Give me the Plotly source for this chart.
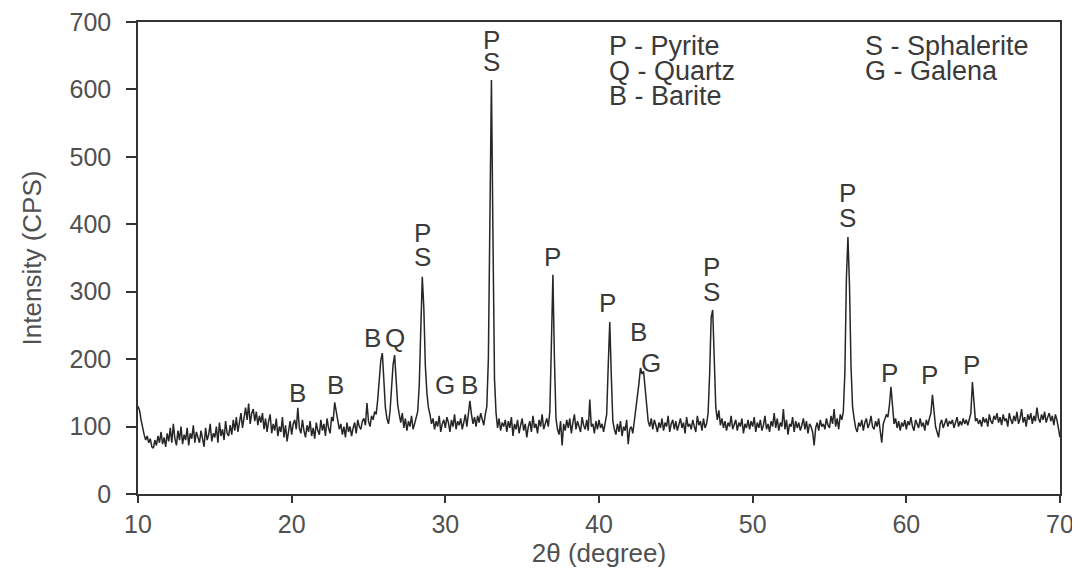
import numpy as np
import plotly.graph_objects as go

# 2-theta grid: 10.0 .. 70.0 in 0.1 degree steps (601 samples)
theta_start = 10.0
theta_step = 0.1

# Intensity (CPS), one row per degree
int_10_20 = [
    130, 124, 110, 96, 88, 80, 86, 76, 82, 70,
    68, 80, 72, 86, 76, 92, 74, 84, 70, 90,
    78, 98, 76, 104, 82, 72, 94, 80, 100, 74,
    88, 80, 98, 72, 90, 82, 102, 76, 92, 84,
    76, 94, 84, 70, 98, 80, 88, 104, 78, 90,
    84, 100, 76, 106, 86, 96, 80, 108, 90, 86,
    102, 88, 110, 94, 114, 92, 106, 120, 98, 112,
    128, 110, 134, 104, 120, 126, 108, 122, 102, 116,
    106, 120, 96, 112, 92, 108, 118, 90, 104, 94,
    112, 86, 100, 92, 114, 84, 102, 78, 96, 108,
]
int_20_30 = [
    88, 104, 110, 96, 128, 98, 90, 110, 94, 84,
    102, 92, 108, 86, 98, 82, 106, 94, 88, 110,
    94, 104, 86, 112, 98, 90, 114, 108, 136, 124,
    110, 96, 104, 88, 100, 84, 106, 92, 100, 86,
    98, 106, 90, 110, 100, 96, 108, 112, 102, 135,
    108, 100, 116, 110, 122, 118, 140, 172, 198, 209,
    170, 128, 112, 104, 122, 158, 192, 206, 170, 132,
    118, 106, 120, 98, 112, 94, 108, 100, 116, 96,
    104, 116, 122, 160, 260, 322, 276, 190, 150, 128,
    118, 104, 112, 96, 108, 100, 116, 92, 104, 110,
]
int_30_40 = [
    98, 114, 106, 92, 110, 100, 118, 96, 108, 102,
    112, 96, 106, 118, 100, 122, 138, 118, 104, 114,
    100, 116, 106, 120, 110, 102, 118, 130, 200, 400,
    614, 380, 170, 120, 98, 112, 94, 106, 100, 110,
    92, 108, 98, 114, 86, 104, 96, 110, 90, 102,
    112, 94, 104, 84, 100, 108, 92, 116, 98, 104,
    90, 110, 100, 118, 96, 104, 112, 100, 122, 220,
    325, 200, 112, 96, 88, 108, 72, 104, 94, 110,
    98, 112, 90, 106, 118, 96, 108, 100, 92, 114,
    102, 96, 110, 94, 140, 100, 104, 90, 108, 96,
]
int_40_50 = [
    110, 98, 104, 92, 106, 118, 190, 255, 176, 108,
    96, 88, 104, 92, 108, 86, 100, 94, 110, 74,
    96, 100, 90, 108, 120, 138, 164, 187, 178, 182,
    158, 126, 108, 100, 112, 96, 110, 102, 92, 106,
    98, 112, 94, 106, 100, 116, 92, 104, 110, 96,
    108, 94, 102, 112, 98, 106, 90, 114, 100, 104,
    96, 110, 100, 92, 116, 102, 108, 94, 112, 98,
    104, 120, 178, 262, 273, 200, 128, 110, 124, 102,
    112, 98, 108, 94, 106, 100, 116, 96, 104, 110,
    94, 106, 100, 112, 90, 104, 98, 110, 96, 108,
]
int_50_60 = [
    100, 114, 92, 106, 98, 110, 94, 102, 116, 96,
    104, 92, 108, 100, 120, 98, 112, 94, 106, 100,
    126, 96, 110, 88, 104, 100, 114, 92, 108, 98,
    106, 94, 102, 112, 96, 108, 90, 104, 100, 92,
    72, 98, 106, 94, 110, 100, 104, 96, 112, 102,
    98, 116, 104, 126, 100, 112, 96, 118, 110, 122,
    180, 320, 381, 310, 190, 130, 112, 98, 92, 106,
    100, 110, 94, 106, 112, 98, 104, 116, 100, 96,
    108, 100, 112, 96, 76, 104, 110, 118, 114, 132,
    159, 126, 104, 112, 98, 108, 94, 106, 100, 110,
]
int_60_70 = [
    96, 108, 102, 114, 100, 94, 110, 104, 98, 112,
    100, 106, 94, 110, 102, 112, 120, 147, 118, 100,
    92, 84, 104, 110, 98, 106, 112, 100, 108, 104,
    110, 98, 106, 114, 100, 108, 102, 112, 104, 110,
    102, 112, 120, 166, 134, 108, 112, 104, 110, 100,
    114, 106, 112, 100, 118, 108, 104, 116, 110, 120,
    106, 114, 102, 118, 108, 112, 100, 120, 110, 104,
    116, 108, 122, 104, 112, 126, 106, 114, 100, 118,
    110, 120, 104, 116, 108, 128, 112, 106, 118, 110,
    122, 106, 114, 120, 108, 116, 102, 118, 110, 96,
    84,
]

intensity = int_10_20 + int_20_30 + int_30_40 + int_40_50 + int_50_60 + int_60_70
two_theta = np.round(theta_start + theta_step * np.arange(len(intensity)), 2)

# Phase labels above peaks
label_text = ["B", "B", "B", "Q", "P", "S", "G", "B", "P", "S", "P", "P", "B", "G",
              "P", "S", "P", "S", "P", "P", "P"]
label_x = [20.41, 22.82, 25.29, 26.72, 28.54, 28.54, 29.97, 31.6, 33.03, 33.03, 37.0,
           40.58, 42.6, 43.38, 47.35, 47.35, 56.19, 56.19, 58.93, 61.53, 64.26]
label_y = [150, 162, 231, 231, 387, 352, 162, 162, 674, 641, 352,
           283, 240, 194, 337, 300, 446, 409, 179, 176, 191]

# Key text
key_text = ["P - Pyrite", "Q - Quartz", "B - Barite", "S - Sphalerite", "G - Galena"]
key_x = [40.5, 40.5, 40.5, 57.2, 57.2]
key_y = [665, 628, 591, 665, 628]

x_ticks = [10, 20, 30, 40, 50, 60, 70]
y_ticks = [0, 100, 200, 300, 400, 500, 600, 700]

FONT = "Liberation Sans, Arial, sans-serif"
TXT = "#3a3a3a"
TICK = "#505050"

fig = go.Figure()
fig.add_trace(go.Scatter(
    x=two_theta, y=intensity, mode="lines",
    line=dict(color="#262626", width=1.5),
    showlegend=False, hoverinfo="skip",
))

annotations = []
for t, x, y in zip(label_text, label_x, label_y):
    annotations.append(dict(x=x, y=y, xref="x", yref="y", text=t, showarrow=False,
                            xanchor="center", yanchor="middle",
                            font=dict(family=FONT, size=26, color=TXT)))
for t, x, y in zip(key_text, key_x, key_y):
    annotations.append(dict(x=x, y=y, xref="x", yref="y", text=t, showarrow=False,
                            xanchor="left", yanchor="middle",
                            font=dict(family=FONT, size=27, color=TXT)))

# page body has an 8px default margin: the figure sits at (8, 8) in the window
fig.update_layout(
    width=1072, height=568,
    margin=dict(l=130, r=20, t=14, b=82),
    paper_bgcolor="white", plot_bgcolor="white",
    font=dict(family=FONT, color=TICK),
    annotations=annotations,
)
fig.update_xaxes(
    range=[10, 70], tickvals=x_ticks, ticks="outside", ticklen=7, tickwidth=1.5,
    tickcolor="#333333", showline=True, linecolor="#333333", linewidth=1.5, mirror=True,
    showgrid=False, zeroline=False, automargin=False, ticklabeloverflow="allow",
    tickfont=dict(family=FONT, size=25, color=TICK),
    title=dict(text="2θ (degree)", font=dict(family=FONT, size=26, color=TICK), standoff=2),
)
fig.update_yaxes(
    range=[0, 700], tickvals=y_ticks, ticks="outside", ticklen=10, tickwidth=1.5,
    tickcolor="#333333", showline=True, linecolor="#333333", linewidth=1.5, mirror=True,
    showgrid=False, zeroline=False, automargin=False, ticklabelstandoff=10,
    ticklabeloverflow="allow",
    tickfont=dict(family=FONT, size=25, color=TICK),
    title=dict(text="Intensity (CPS)", font=dict(family=FONT, size=26, color=TICK), standoff=20),
)

fig.write_html("out.html")
